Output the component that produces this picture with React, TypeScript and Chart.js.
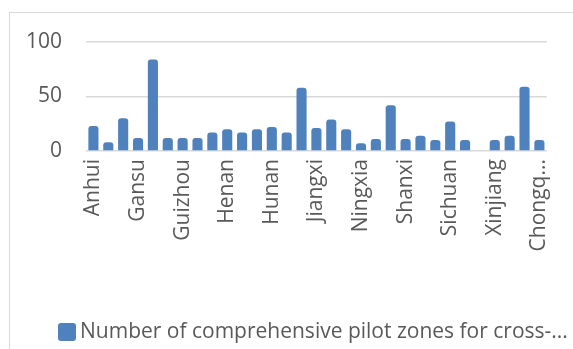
import { useEffect, useRef } from "react";
import { Chart, registerables } from "chart.js";

Chart.register(...registerables);

const categories = [
  "Anhui", "Beijing", "Fujian", "Gansu", "Guangdong", "Guangxi", "Guizhou", "Hainan",
  "Hebei", "Henan", "Heilongjiang", "Hubei", "Hunan", "Jilin", "Jiangsu", "Jiangxi",
  "Liaoning", "Inner Mongolia", "Ningxia", "Qinghai", "Shandong", "Shanxi", "Shaanxi",
  "Shanghai", "Sichuan", "Tianjin", "Tibet", "Xinjiang", "Yunnan", "Zhejiang", "Chongqing",
];
const pilotZones: (number | null)[] = [
  23, 8, 30, 12, 84, 12, 12, 12, 17, 20, 17, 20, 22, 17, 58, 21,
  29, 20, 7, 11, 42, 11, 14, 10, 27, 10, null, 10, 14, 59, 10,
];
const yTickValues = [0, 50, 100];
const seriesLabel = "Number of comprehensive pilot zones for cross-...";

const BAR = "#4f81bd";
const TEXT = "#595959";
const GRID = "#d9d9d9";
const FONT = "'Open Sans', 'Noto Sans', sans-serif";

export default function App() {
  const ref = useRef<HTMLCanvasElement | null>(null);

  useEffect(() => {
    document.body.style.margin = "0";
    const canvas = ref.current;
    if (!canvas) return;

    const framePlugin = {
      id: "frame",
      beforeDraw(chart: any) {
        const ctx = chart.ctx;
        ctx.save();
        ctx.fillStyle = "#ffffff";
        ctx.fillRect(0, 0, chart.width, chart.height);
        ctx.strokeStyle = GRID;
        ctx.lineWidth = 1;
        ctx.strokeRect(9.5, 12.5, 800, 600);
        ctx.restore();
      },
    };

    const legendPlugin = {
      id: "customLegend",
      afterDraw(chart: any) {
        const ctx = chart.ctx;
        ctx.save();
        ctx.fillStyle = BAR;
        ctx.beginPath();
        (ctx as any).roundRect(58, 323, 18, 18, 3);
        ctx.fill();
        ctx.fillStyle = TEXT;
        ctx.font = `21px ${FONT}`;
        ctx.textBaseline = "middle";
        ctx.textAlign = "left";
        ctx.fillText(seriesLabel, 80, 332);
        ctx.restore();
      },
    };

    const chart = new Chart(canvas, {
      type: "bar",
      data: {
        labels: categories,
        datasets: [
          {
            label: seriesLabel,
            data: pilotZones as any,
            backgroundColor: BAR,
            borderRadius: { topLeft: 3, topRight: 3, bottomLeft: 0, bottomRight: 0 },
            borderSkipped: false,
            categoryPercentage: 1,
            barPercentage: 0.68,
          },
        ],
      },
      options: {
        responsive: false,
        animation: false,
        layout: { padding: { top: 42, right: 26, left: 0, bottom: 0 } },
        plugins: {
          legend: { display: false },
          tooltip: { enabled: false },
        },
        scales: {
          x: {
            grid: { display: false, drawTicks: false },
            border: { display: false },
            ticks: {
              autoSkip: false,
              maxRotation: 90,
              minRotation: 90,
              padding: 8,
              color: TEXT,
              font: { family: FONT, size: 21 },
              callback: (_v: any, i: number) => {
                if (i % 3 !== 0) return "";
                const s = categories[i];
                return s.length > 8 ? s.slice(0, 6) + "..." : s;
              },
            },
            afterFit: (scale: any) => {
              scale.height = 349 - 151;
            },
          },
          y: {
            min: 0,
            max: 100,
            grid: { color: GRID, lineWidth: 1.5, drawTicks: false },
            border: { display: false },
            afterBuildTicks: (scale: any) => {
              scale.ticks = yTickValues.map((v) => ({ value: v }));
            },
            ticks: {
              padding: 24,
              color: TEXT,
              font: { family: FONT, size: 21 },
            },
            afterFit: (scale: any) => {
              scale.width = 86;
            },
          },
        },
      },
      plugins: [framePlugin, legendPlugin],
    });

    return () => chart.destroy();
  }, []);

  return (
    <div style={{ width: 573, height: 349 }}>
      <canvas ref={ref} width={573} height={349} />
    </div>
  );
}
